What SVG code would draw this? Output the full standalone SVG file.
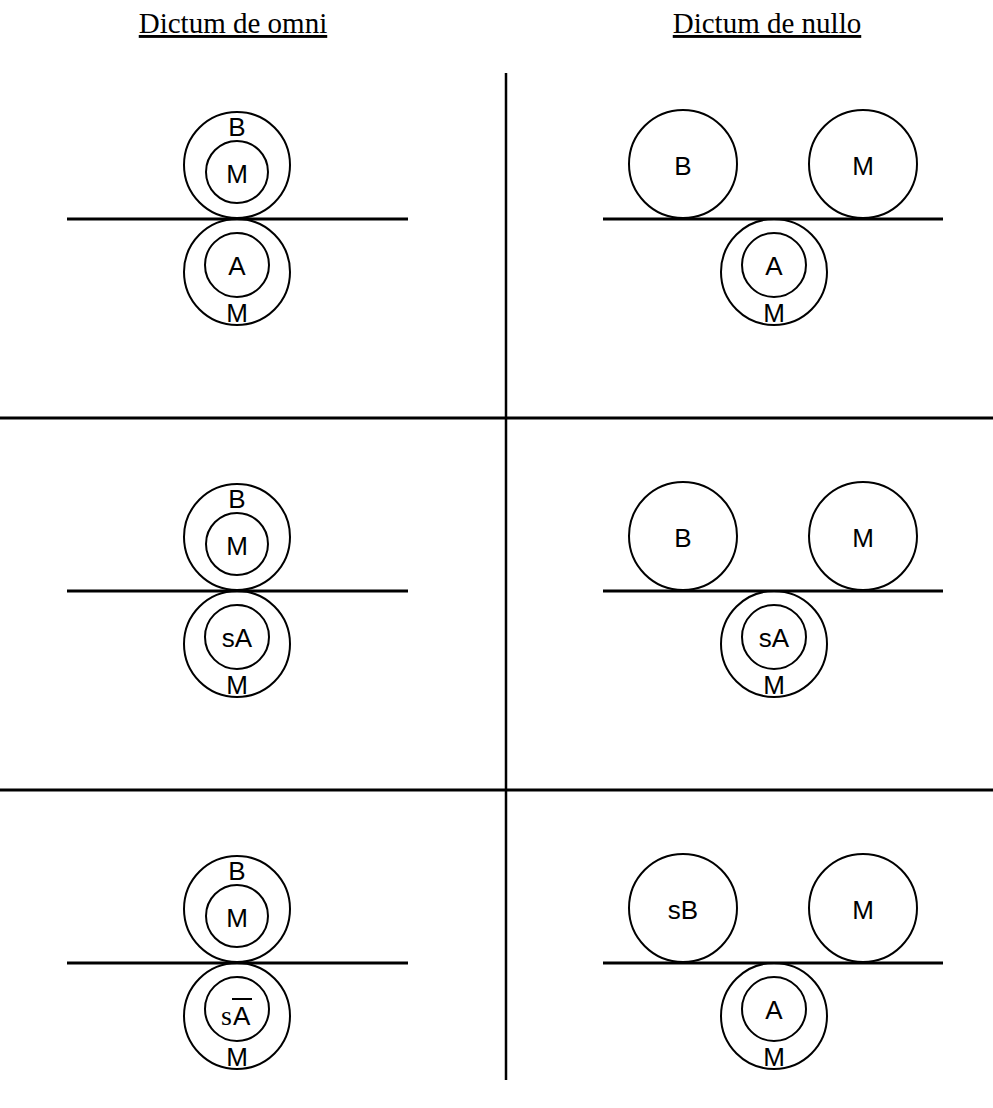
<svg xmlns="http://www.w3.org/2000/svg" width="993" height="1108" viewBox="0 0 993 1108">
<style>
.c{fill:none;stroke:#000;stroke-width:2}
.l{stroke:#000;stroke-width:3}
.t{font-family:"Liberation Sans",Arial,sans-serif;font-size:26px;text-anchor:middle;fill:#000}
.h{font-family:"Liberation Serif","Times New Roman",serif;font-size:29px;text-anchor:middle;fill:#000;text-decoration:underline}
.s{font-family:"Liberation Serif","Times New Roman",serif;font-size:28px;fill:#000}
</style>
<rect width="993" height="1108" fill="#fff"/>
<text class="h" x="233" y="33">Dictum de omni</text>
<text class="h" x="767" y="33">Dictum de nullo</text>
<g id="connectors">
<line class="l" x1="506" y1="73" x2="506" y2="1080" style="stroke-width:2.5"/>
<line class="l" x1="0" y1="418" x2="993" y2="418"/>
<line class="l" x1="0" y1="790" x2="993" y2="790"/>
<line class="l" x1="67" y1="219" x2="408" y2="219"/>
<line class="l" x1="603" y1="219" x2="943" y2="219"/>
<line class="l" x1="67" y1="591" x2="408" y2="591"/>
<line class="l" x1="603" y1="591" x2="943" y2="591"/>
<line class="l" x1="67" y1="963" x2="408" y2="963"/>
<line class="l" x1="603" y1="963" x2="943" y2="963"/>
</g>
<g id="omni1">
<circle class="c" cx="237" cy="165" r="53"/><circle class="c" cx="237" cy="172" r="31"/>
<text class="t" x="237" y="136">B</text><text class="t" x="237" y="183">M</text>
<circle class="c" cx="237" cy="272" r="53"/><circle class="c" cx="237" cy="265" r="32"/>
<text class="t" x="237" y="275">A</text><text class="t" x="237" y="322">M</text>
</g>
<g id="nullo1">
<circle class="c" cx="683" cy="164" r="54"/><text class="t" x="683" y="175">B</text>
<circle class="c" cx="863" cy="164" r="54"/><text class="t" x="863" y="175">M</text>
<circle class="c" cx="774" cy="272" r="53"/><circle class="c" cx="774" cy="265" r="32"/>
<text class="t" x="774" y="275">A</text><text class="t" x="774" y="322">M</text>
</g>
<g id="omni2" transform="translate(0,372)">
<circle class="c" cx="237" cy="165" r="53"/><circle class="c" cx="237" cy="172" r="31"/>
<text class="t" x="237" y="136">B</text><text class="t" x="237" y="183">M</text>
<circle class="c" cx="237" cy="272" r="53"/><circle class="c" cx="237" cy="265" r="32"/>
<text class="t" x="237" y="275">sA</text><text class="t" x="237" y="322">M</text>
</g>
<g id="nullo2" transform="translate(0,372)">
<circle class="c" cx="683" cy="164" r="54"/><text class="t" x="683" y="175">B</text>
<circle class="c" cx="863" cy="164" r="54"/><text class="t" x="863" y="175">M</text>
<circle class="c" cx="774" cy="272" r="53"/><circle class="c" cx="774" cy="265" r="32"/>
<text class="t" x="774" y="275">sA</text><text class="t" x="774" y="322">M</text>
</g>
<g id="omni3" transform="translate(0,744)">
<circle class="c" cx="237" cy="165" r="53"/><circle class="c" cx="237" cy="172" r="31"/>
<text class="t" x="237" y="136">B</text><text class="t" x="237" y="183">M</text>
<circle class="c" cx="237" cy="272" r="53"/><circle class="c" cx="237" cy="265" r="32"/>
<text class="s" x="221" y="281">s</text><text class="t" x="233" y="281" style="text-anchor:start">A</text>
<line x1="232" y1="255" x2="252" y2="255" stroke="#000" stroke-width="2"/>
<text class="t" x="237" y="322">M</text>
</g>
<g id="nullo3" transform="translate(0,744)">
<circle class="c" cx="683" cy="164" r="54"/><text class="t" x="683" y="175">sB</text>
<circle class="c" cx="863" cy="164" r="54"/><text class="t" x="863" y="175">M</text>
<circle class="c" cx="774" cy="272" r="53"/><circle class="c" cx="774" cy="265" r="32"/>
<text class="t" x="774" y="275">A</text><text class="t" x="774" y="322">M</text>
</g>
</svg>
